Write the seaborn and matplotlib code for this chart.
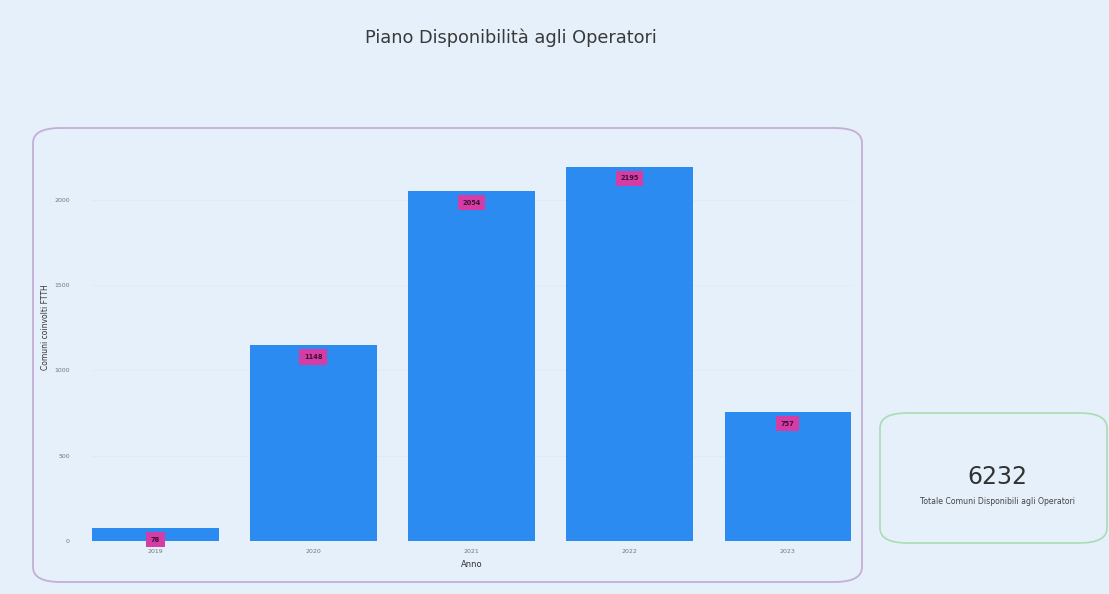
import matplotlib
matplotlib.use("Agg")
import matplotlib.pyplot as plt
from matplotlib.patches import FancyBboxPatch
import pandas as pd
import seaborn as sns

# Data
anni = ["2019", "2020", "2021", "2022", "2023"]
comuni = [78, 1148, 2054, 2195, 757]
y_ticks = [0, 500, 1000, 1500, 2000]
totale = sum(comuni)

titolo = "Piano Disponibilità agli Operatori"
etichetta_x = "Anno"
etichetta_y = "Comuni coinvolti FTTH"
sottotitolo_card = "Totale Comuni Disponibili agli Operatori"

BG = "#E6F0FB"
BAR = "#2B8BF0"
LABEL_BOX = "#D63CA6"

sns.set_theme(style="white")
plt.rcParams["font.family"] = ["DejaVu Sans"]

W, H = 1109, 594
fig = plt.figure(figsize=(W / 100, H / 100), dpi=100)
fig.patch.set_facecolor(BG)

def fx(px):
    return px / W

def fy(py):
    return 1 - py / H

# Outer rounded panel around the chart
panel = FancyBboxPatch((fx(33), fy(582)), fx(862 - 33), (582 - 128) / H,
                       boxstyle="round,pad=0,rounding_size=0.025",
                       transform=fig.transFigure, facecolor="none",
                       edgecolor="#C4AED6", linewidth=1.3, zorder=-1)
fig.patches.append(panel)

# KPI card
card = FancyBboxPatch((fx(880), fy(543)), fx(1107 - 880), (543 - 413) / H,
                      boxstyle="round,pad=0,rounding_size=0.025",
                      transform=fig.transFigure, facecolor="none",
                      edgecolor="#A9DDB0", linewidth=1.2, zorder=-1)
fig.patches.append(card)

fig.text(fx(511), fy(38), titolo, ha="center", va="center",
         fontsize=12.8, color="#3a3a3a")

fig.text(fx(997), fy(477), f"{totale}", ha="center", va="center",
         fontsize=17, color="#333333", fontweight="medium")
fig.text(fx(997), fy(501), sottotitolo_card, ha="center", va="center",
         fontsize=5.6, color="#444444")

ax = fig.add_axes([fx(92), 1 - 541 / H, fx(851 - 92), (541 - 159) / H])
ax.set_facecolor("none")

df = pd.DataFrame({"Anno": anni, "Comuni": comuni})
sns.barplot(data=df, x="Anno", y="Comuni", color=BAR, saturation=1,
            width=0.8, linewidth=0, ax=ax, zorder=3)

ax.set_xlim(-0.4, 4.4)
ax.set_ylim(0, 2240)
ax.set_yticks(y_ticks)
ax.set_yticklabels([str(t) for t in y_ticks])
ax.tick_params(axis="x", labelsize=4.5, colors="#777777", length=0, pad=6)
ax.tick_params(axis="y", labelsize=4.5, colors="#777777", length=0, pad=16)
ax.yaxis.grid(True, color="#D6DEEA", linewidth=0.6, linestyle=(0, (1, 2)))
ax.set_axisbelow(True)
for s in ax.spines.values():
    s.set_visible(False)

ax.set_xlabel(etichetta_x, fontsize=6, color="#333333", labelpad=4)
ax.set_ylabel(etichetta_y, fontsize=5.5, color="#333333")
ax.yaxis.set_label_coords(-0.055, 0.56)

# Value labels inside the bars
for i, v in enumerate(comuni):
    ax.annotate(f"{v}", xy=(i, v), xytext=(0, -8.5), textcoords="offset points",
                ha="center", va="center", fontsize=4.8, color="#3a1030",
                fontweight="bold", zorder=5,
                bbox=dict(boxstyle="square,pad=0.7", facecolor=LABEL_BOX,
                          edgecolor="none"))

fig.savefig("out.png", dpi=100, facecolor=BG)
